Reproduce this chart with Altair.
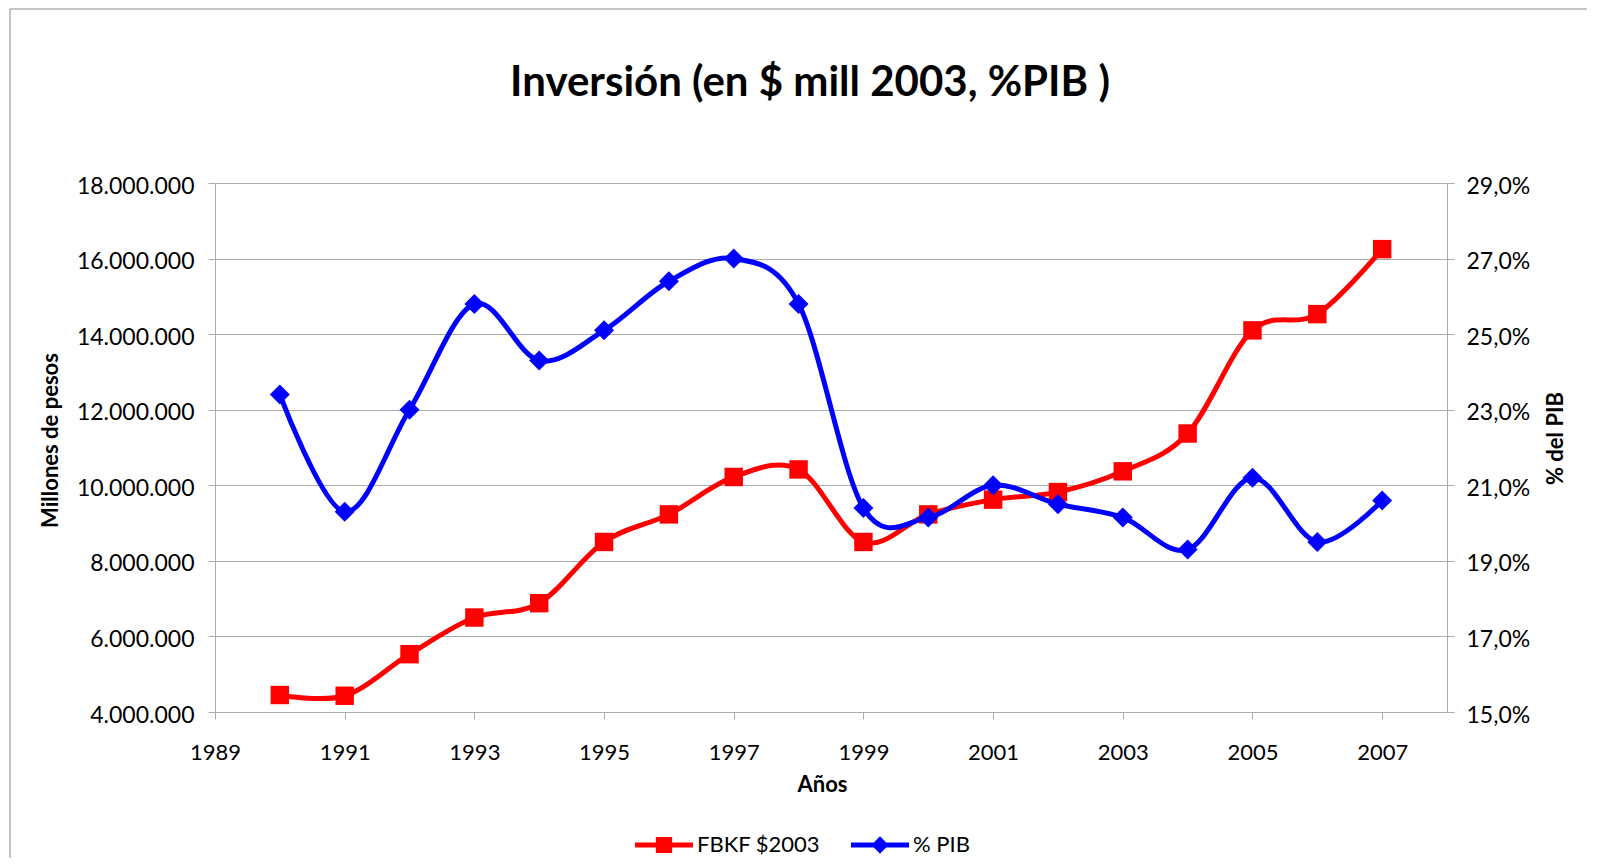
import altair as alt
import pandas as pd

# ---- data ----
years = [1990, 1991, 1992, 1993, 1994, 1995, 1996, 1997, 1998, 1999,
         2000, 2001, 2002, 2003, 2004, 2005, 2006, 2007]
fbkf = [4450000, 4430000, 5530000, 6500000, 6880000, 8500000, 9230000,
        10220000, 10420000, 8500000, 9230000, 9620000, 9820000, 10370000,
        11370000, 14100000, 14530000, 16250000]
pib = [23.4, 20.3, 23.0, 25.8, 24.3, 25.1, 26.4, 27.0, 25.8, 20.4,
       20.15, 21.0, 20.5, 20.15, 19.3, 21.2, 19.5, 20.6]
series_names = ["FBKF $2003", "% PIB"]
x_ticks = [1989, 1991, 1993, 1995, 1997, 1999, 2001, 2003, 2005, 2007]
left_ticks = [4000000, 6000000, 8000000, 10000000, 12000000, 14000000,
              16000000, 18000000]
right_ticks = [15, 17, 19, 21, 23, 25, 27, 29]

df_r = pd.DataFrame({"year": years, "value": fbkf, "serie": series_names[0]})
df_b = pd.DataFrame({"year": years, "value": pib, "serie": series_names[1]})

RED = "#FF0000"
BLUE = "#0000FF"
GRAY = "#ababab"
FONT = "Lato"

x_enc = alt.X(
    "year:Q",
    scale=alt.Scale(domain=[1989, 2008], nice=False, zero=False),
    axis=alt.Axis(
        values=x_ticks, format="d", title="Años", grid=False,
        domainColor=GRAY, tickColor=GRAY, tickSize=7,
        labelFontSize=22, labelColor="black", labelBaseline="alphabetic",
        labelPadding=40, labelFlush=False, labelOverlap=False,
        titleFontSize=22, titleFontWeight="bold", titleColor="black",
        titleX=607, titleY=79, titleBaseline="alphabetic", titleAlign="center",
    ),
)

y_left = alt.Y(
    "value:Q",
    scale=alt.Scale(domain=[4000000, 18000000], nice=False, zero=False),
    axis=alt.Axis(
        orient="left", values=left_ticks,
        labelExpr="replace(format(datum.value, ',d'), regexp(',', 'g'), '.')",
        grid=True, gridColor=GRAY, domainColor=GRAY, tickColor=GRAY, tickSize=7,
        labelPadding=14, labelFontSize=23, labelColor="black", labelOffset=3,
        labelFlush=False, labelOverlap=False,
        title="Millones de pesos", titleFontSize=22, titleFontWeight="bold",
        titleColor="black", titleX=-158, titleY=257, titleAngle=270,
        titleBaseline="alphabetic", titleAlign="center",
    ),
)

y_right = alt.Y(
    "value:Q",
    scale=alt.Scale(domain=[15, 29], nice=False, zero=False),
    axis=alt.Axis(
        orient="right", values=right_ticks,
        labelExpr="replace(format(datum.value, '.1f'), '.', ',') + '%'",
        grid=False, domainColor=GRAY, tickColor=GRAY, tickSize=7,
        labelPadding=12, labelFontSize=23, labelColor="black", labelOffset=3,
        labelFlush=False, labelOverlap=False,
        title="% del PIB", titleFontSize=22, titleFontWeight="bold",
        titleColor="black", titleX=115, titleY=255, titleAngle=270,
        titleBaseline="alphabetic", titleAlign="center",
    ),
)

SQ_PATH = "M-1,-0.09H1V0.09H-1Z M-0.28,-0.28H0.28V0.28H-0.28Z"
DI_PATH = "M-1,-0.09H1V0.09H-1Z M0,-0.3L0.3,0L0,0.3L-0.3,0Z"

red_line = alt.Chart(df_r).mark_line(
    color=RED, strokeWidth=5, interpolate="cardinal", tension=0,
    strokeCap="round", strokeJoin="round",
).encode(x=x_enc, y=y_left)

red_pts = alt.Chart(df_r).mark_point(
    shape="square", filled=True, size=340, opacity=1,
).encode(
    x=x_enc, y=y_left,
    color=alt.Color(
        "serie:N",
        scale=alt.Scale(domain=[series_names[0]], range=[RED]),
        legend=alt.Legend(
            orient="none", legendX=420, legendY=633, title=None,
            symbolType=SQ_PATH, symbolSize=3364, symbolStrokeWidth=0,
            labelFontSize=22, labelColor="black", labelOffset=4, padding=0,
        ),
    ),
)

blue_line = alt.Chart(df_b).mark_line(
    color=BLUE, strokeWidth=5, interpolate="cardinal", tension=0,
    strokeCap="round", strokeJoin="round",
).encode(x=x_enc, y=y_right)

blue_pts = alt.Chart(df_b).mark_point(
    shape="diamond", filled=True, size=400, opacity=1,
).encode(
    x=x_enc, y=y_right,
    color=alt.Color(
        "serie:N",
        scale=alt.Scale(domain=[series_names[1]], range=[BLUE]),
        legend=alt.Legend(
            orient="none", legendX=636, legendY=633, title=None,
            symbolType=DI_PATH, symbolSize=3364, symbolStrokeWidth=0,
            labelFontSize=22, labelColor="black", labelOffset=4, padding=0,
        ),
    ),
)

frame = alt.Chart(alt.Data(values=[{"k": 1}])).mark_rect(
    fill="white", fillOpacity=0, stroke="#8a8a8a", strokeWidth=1,
).encode(
    x=alt.value(-205), x2=alt.value(3000),
    y=alt.value(-174), y2=alt.value(3000),
)

red_group = alt.layer(red_line, red_pts)
blue_group = alt.layer(blue_line, blue_pts)

chart = alt.layer(frame, red_group, blue_group).resolve_scale(
    y="independent", color="independent"
).properties(
    width=1232,
    height=529,
    title=alt.TitleParams(
        text="Inversión (en $ mill 2003, %PIB )", fontSize=42,
        fontWeight="bold", font=FONT, color="black", anchor="middle",
        frame="group", offset=-129, dx=-21, baseline="alphabetic",
    ),
    autosize=alt.AutoSizeParams(type="none"),
    padding={"left": 207, "top": 175, "right": 140, "bottom": 146},
).configure(font=FONT).configure_view(strokeWidth=0)

chart.save("out.html", embed_options={"renderer": "svg", "actions": False})
